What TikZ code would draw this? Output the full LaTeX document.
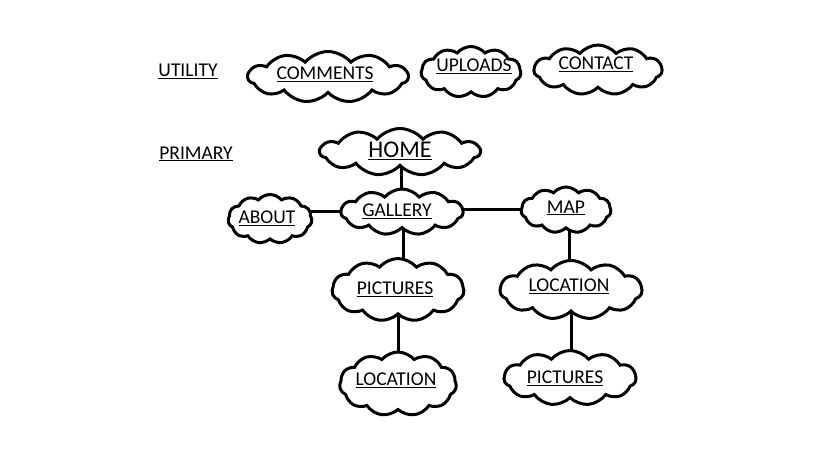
\documentclass[tikz,border=0pt]{standalone}
\usepackage{fontspec}
\setmainfont{Carlito}
\usetikzlibrary{shapes.symbols,backgrounds}
\tikzset{
  cl/.style={cloud, cloud puffs=11, cloud puff arc=100, cloud ignores aspect, draw=black, fill=white, line width=3pt, inner sep=0pt},
  lbl/.style={font=\fontsize{19.5}{21}\selectfont, inner sep=0pt, text=black},
  conn/.style={line width=3pt}
}
\begin{document}
\begin{tikzpicture}[x=1pt,y=-1pt]
\useasboundingbox (0,0) rectangle (819,460);
% clouds
\node[cl, minimum width=160, minimum height=51] (comments) at (328,77) {};
\node[cl, minimum width=100, minimum height=51] (uploads) at (471,72) {};
\node[cl, minimum width=128, minimum height=50] (contact) at (598,70) {};
\node[cl, minimum width=160, minimum height=47] (home) at (400,152) {};
\node[cl, minimum width=84, minimum height=49] (about) at (270,219) {};
\node[cl, minimum width=122, minimum height=46] (gallery) at (402,212) {};
\node[cl, minimum width=90, minimum height=46] (map) at (566,210) {};
\node[cl, minimum width=132, minimum height=63] (pict1) at (398,290) {};
\node[cl, minimum width=142, minimum height=59] (loc2) at (571,290) {};
\node[cl, minimum width=117, minimum height=64] (loc1) at (398,384) {};
\node[cl, minimum width=132, minimum height=55] (pict2) at (570,378) {};
% connectors
\begin{scope}[on background layer]
\draw[conn] ([xshift=1pt]home.center) -- ([xshift=1pt]home.center |- gallery.center);
\draw[conn] ([yshift=8pt]about.center) -- ([yshift=8pt]about.center -| gallery.center);
\draw[conn] ([yshift=1pt]map.center) -- ([yshift=1pt]map.center -| gallery.center);
\draw[conn] ([xshift=1pt]gallery.center) -- ([xshift=1pt]gallery.center |- pict1.center);
\draw[conn] ([xshift=3pt]map.center) -- ([xshift=3pt]map.center |- loc2.center);
\draw[conn] (pict1.center) -- (pict1.center |- loc1.center);
\draw[conn] (loc2.center) -- (loc2.center |- pict2.center);
\end{scope}
% labels
\node[lbl] (tutil) at (188,71) {\underline{UTILITY}};
\node[lbl] (tprim) at (196,154) {\underline{PRIMARY}};
\node[lbl] (tcomm) at (325,74) {\underline{COMMENTS}};
\node[lbl] (tupl) at (474,66) {\underline{UPLOADS}};
\node[lbl] (tcont) at (596,64) {\underline{CONTACT}};
\node[lbl, font=\fontsize{24}{26}\selectfont] (thome) at (400,151) {\underline{HOME}};
\node[lbl] (tabout) at (267,218) {\underline{ABOUT}};
\node[lbl] (tgal) at (397,211) {\underline{GALLERY}};
\node[lbl] (tmap) at (566,208) {\underline{MAP}};
\node[lbl] (tp1) at (395,289) {\underline{PICTURES}};
\node[lbl] (tl2) at (569,286) {\underline{LOCATION}};
\node[lbl] (tl1) at (396,380) {\underline{LOCATION}};
\node[lbl] (tp2) at (565,378) {\underline{PICTURES}};
\end{tikzpicture}
\end{document}
